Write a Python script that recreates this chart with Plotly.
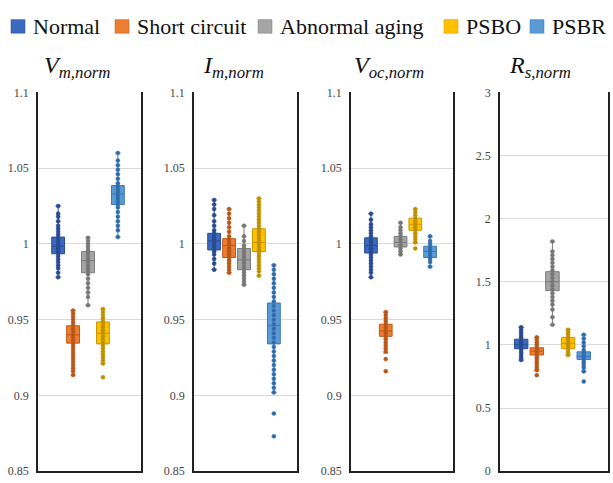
import plotly.graph_objects as go

# ---------------- data ----------------
categories = ["Normal", "Short circuit", "Abnormal aging", "PSBO", "PSBR"]
panel_titles = ["<i>V</i><sub><i>m,norm</i></sub>", "<i>I</i><sub><i>m,norm</i></sub>",
                "<i>V</i><sub><i>oc,norm</i></sub>", "<i>R</i><sub><i>s,norm</i></sub>"]

# box statistics per panel: [q1, median, q3, lower whisker, upper whisker] for each category
vm_stats = [[0.9935, 0.9985, 1.0045, 0.978, 1.025],
            [0.9345, 0.940, 0.946, 0.9135, 0.956],
            [0.981, 0.989, 0.995, 0.9595, 1.004],
            [0.934, 0.941, 0.9485, 0.921, 0.957],
            [1.026, 1.033, 1.0385, 1.0045, 1.060]]
im_stats = [[0.996, 1.002, 1.007, 0.983, 1.029],
            [0.991, 0.999, 1.0035, 0.981, 1.023],
            [0.983, 0.9895, 0.997, 0.973, 1.012],
            [0.995, 1.001, 1.010, 0.979, 1.030],
            [0.934, 0.946, 0.961, 0.902, 0.986]]
voc_stats = [[0.994, 0.999, 1.004, 0.978, 1.020],
             [0.939, 0.9425, 0.947, 0.928, 0.955],
             [0.998, 1.001, 1.005, 0.993, 1.014],
             [1.009, 1.013, 1.017, 1.001, 1.023],
             [0.991, 0.995, 0.9985, 0.985, 1.005]]
rs_stats = [[0.97, 1.00, 1.045, 0.88, 1.14],
            [0.92, 0.95, 0.977, 0.80, 1.06],
            [1.43, 1.50, 1.58, 1.16, 1.82],
            [0.97, 1.01, 1.06, 0.92, 1.12],
            [0.885, 0.91, 0.945, 0.79, 1.08]]

# individual sample points
vm_points = [
    [1.025, 1.020, 1.018, 1.015, 1.012, 1.010, 1.008, 1.006, 1.004, 1.002, 1.000, 0.999, 0.998,
     0.997, 0.996, 0.995, 0.994, 0.992, 0.990, 0.988, 0.986, 0.984, 0.981, 0.978],
    [0.956, 0.954, 0.952, 0.950, 0.948, 0.946, 0.944, 0.942, 0.940, 0.938, 0.936, 0.934, 0.932,
     0.930, 0.928, 0.926, 0.924, 0.922, 0.920, 0.918, 0.916, 0.9135],
    [1.004, 1.002, 1.000, 0.998, 0.996, 0.994, 0.992, 0.990, 0.988, 0.986, 0.984, 0.982, 0.980,
     0.977, 0.974, 0.971, 0.968, 0.965, 0.9595],
    [0.957, 0.955, 0.953, 0.951, 0.949, 0.947, 0.945, 0.943, 0.941, 0.939, 0.937, 0.935, 0.933,
     0.931, 0.929, 0.927, 0.925, 0.923, 0.921, 0.912],
    [1.060, 1.055, 1.052, 1.049, 1.046, 1.043, 1.040, 1.038, 1.036, 1.034, 1.032, 1.030, 1.028,
     1.026, 1.024, 1.021, 1.018, 1.015, 1.012, 1.009, 1.0045]]
im_points = [
    [1.029, 1.026, 1.023, 1.019, 1.015, 1.012, 1.009, 1.007, 1.005, 1.003, 1.001, 0.999, 0.997,
     0.995, 0.993, 0.990, 0.987, 0.983],
    [1.023, 1.020, 1.017, 1.014, 1.011, 1.008, 1.005, 1.003, 1.001, 0.999, 0.997, 0.995, 0.993,
     0.991, 0.989, 0.987, 0.985, 0.983, 0.981],
    [1.012, 1.005, 1.002, 0.999, 0.997, 0.995, 0.993, 0.991, 0.989, 0.987, 0.985, 0.983, 0.981,
     0.979, 0.977, 0.975, 0.973],
    [1.030, 1.028, 1.026, 1.024, 1.022, 1.020, 1.018, 1.016, 1.014, 1.012, 1.010, 1.008, 1.006,
     1.004, 1.002, 1.000, 0.998, 0.996, 0.994, 0.992, 0.990, 0.988, 0.986, 0.984, 0.982, 0.979],
    [0.986, 0.983, 0.980, 0.977, 0.974, 0.971, 0.968, 0.965, 0.962, 0.959, 0.956, 0.953, 0.950,
     0.947, 0.944, 0.941, 0.938, 0.935, 0.932, 0.929, 0.926, 0.923, 0.920, 0.917, 0.914, 0.911,
     0.908, 0.905, 0.902, 0.888, 0.873]]
voc_points = [
    [1.020, 1.016, 1.013, 1.011, 1.009, 1.007, 1.005, 1.003, 1.001, 0.999, 0.997, 0.995, 0.993,
     0.991, 0.989, 0.987, 0.985, 0.983, 0.981, 0.978],
    [0.955, 0.953, 0.951, 0.949, 0.947, 0.945, 0.943, 0.941, 0.939, 0.937, 0.935, 0.933, 0.931,
     0.929, 0.924, 0.916],
    [1.014, 1.011, 1.009, 1.007, 1.005, 1.003, 1.001, 0.999, 0.997, 0.995, 0.993],
    [1.023, 1.021, 1.019, 1.017, 1.015, 1.013, 1.011, 1.009, 1.007, 1.005, 1.003, 1.001, 0.997],
    [1.005, 1.002, 1.000, 0.998, 0.996, 0.994, 0.992, 0.990, 0.988, 0.985]]
rs_points = [
    [1.14, 1.12, 1.10, 1.08, 1.06, 1.04, 1.02, 1.00, 0.98, 0.96, 0.94, 0.92, 0.90, 0.88],
    [1.06, 1.04, 1.02, 1.00, 0.98, 0.96, 0.94, 0.92, 0.90, 0.88, 0.86, 0.84, 0.82, 0.80, 0.76],
    [1.82, 1.74, 1.71, 1.68, 1.65, 1.62, 1.59, 1.56, 1.53, 1.50, 1.47, 1.44, 1.41, 1.38, 1.35,
     1.32, 1.28, 1.22, 1.16],
    [1.12, 1.10, 1.08, 1.06, 1.04, 1.02, 1.00, 0.98, 0.96, 0.94, 0.92],
    [1.08, 1.05, 1.02, 0.99, 0.96, 0.94, 0.92, 0.90, 0.88, 0.86, 0.84, 0.82, 0.79, 0.71]]

y_ranges = [[0.85, 1.1], [0.85, 1.1], [0.85, 1.1], [0, 3]]
v_ticks = [0.85, 0.9, 0.95, 1.0, 1.05, 1.1]
v_ticklabels = ["0.85", "0.9", "0.95", "1", "1.05", "1.1"]
r_ticks = [0, 0.5, 1.0, 1.5, 2.0, 2.5, 3.0]
r_ticklabels = ["0", "0.5", "1", "1.5", "2", "2.5", "3"]
tick_sets = [(v_ticks, v_ticklabels)] * 3 + [(r_ticks, r_ticklabels)]

# ---------------- style ----------------
FONT = "Liberation Serif, serif"
box_fill = ["#3A69BF", "#ED7D31", "#A5A5A5", "#FFC000", "#5B9BD5"]
box_line = ["#284C91", "#BF5A1A", "#7A7A7A", "#C89600", "#3A76B4"]
point_col = ["#294A92", "#B8561A", "#767676", "#BC8E00", "#2E6AAB"]

stats_all = [vm_stats, im_stats, voc_stats, rs_stats]
points_all = [vm_points, im_points, voc_points, rs_points]

W, H = 613, 483
x_px = [(38, 141), (194, 297), (351, 453), (500, 608)]
y_top, y_bot = 88, 478
title_x = [77, 233, 389, 540]
legend_sq_x = [11, 115, 258, 444, 530]

fig = go.Figure()
for p in range(4):
    xa = "x" if p == 0 else f"x{p+1}"
    ya = "y" if p == 0 else f"y{p+1}"
    for i, cat in enumerate(categories):
        q1, med, q3, lo, hi = stats_all[p][i]
        fig.add_trace(go.Box(
            x=[i], q1=[q1], median=[med], q3=[q3], lowerfence=[lo], upperfence=[hi],
            name=cat, showlegend=False,
            fillcolor=box_fill[i], line=dict(color=box_line[i], width=1),
            width=0.86, whiskerwidth=0.4, boxpoints=False,
            xaxis=xa, yaxis=ya))
        pts = points_all[p][i]
        fig.add_trace(go.Scatter(
            x=[i] * len(pts), y=pts, mode="markers", showlegend=False, name=cat,
            marker=dict(size=4, color=point_col[i],
                        line=dict(color=box_line[i], width=0.5)),
            xaxis=xa, yaxis=ya))

layout = dict(
    width=W, height=H, margin=dict(l=0, r=0, t=0, b=0),
    paper_bgcolor="white", plot_bgcolor="white",
    font=dict(family=FONT, color="#222"),
    showlegend=False,
)
annotations = []
shapes = []
for p in range(4):
    sfx = "" if p == 0 else str(p + 1)
    x0, x1 = x_px[p]
    tv, tt = tick_sets[p]
    layout["xaxis" + sfx] = dict(
        domain=[x0 / W, x1 / W], range=[-1.35, 5.55], showticklabels=False,
        showgrid=False, zeroline=False, showline=True, linecolor="#222",
        linewidth=1.5, mirror=False, ticks="", anchor="y" + sfx, fixedrange=True)
    layout["yaxis" + sfx] = dict(
        domain=[(H - y_bot) / H, (H - y_top) / H], range=y_ranges[p],
        tickvals=tv, ticktext=tt, showgrid=True, gridcolor="#D9D9D9", gridwidth=1,
        zeroline=False, showline=True, linecolor="#222", linewidth=1.5, mirror=True,
        ticks="", ticklabelstandoff=5, ticklabeloverflow="allow",
        tickfont=dict(size=12, family=FONT, color="#444"),
        anchor="x" + sfx, fixedrange=True)
    annotations.append(dict(
        text=panel_titles[p], x=title_x[p] / W, y=(H - 62) / H, xref="paper", yref="paper",
        xanchor="center", yanchor="middle", showarrow=False,
        font=dict(size=24, family=FONT, color="#111")))

# legend (drawn as layout items)
for i, cat in enumerate(categories):
    sx = legend_sq_x[i]
    shapes.append(dict(type="rect", xref="paper", yref="paper",
                       x0=sx / W, x1=(sx + 14) / W, y0=(H - 27) / H, y1=(H - 13) / H,
                       fillcolor=box_fill[i], line=dict(color=box_line[i], width=0.5)))
    annotations.append(dict(
        text=cat, x=(sx + 20) / W, y=(H - 20) / H, xref="paper", yref="paper",
        xanchor="left", yanchor="middle", showarrow=False,
        font=dict(size=22, family=FONT, color="#111")))

layout["annotations"] = annotations
layout["shapes"] = shapes
fig.update_layout(**layout)

fig.write_html("out.html")
